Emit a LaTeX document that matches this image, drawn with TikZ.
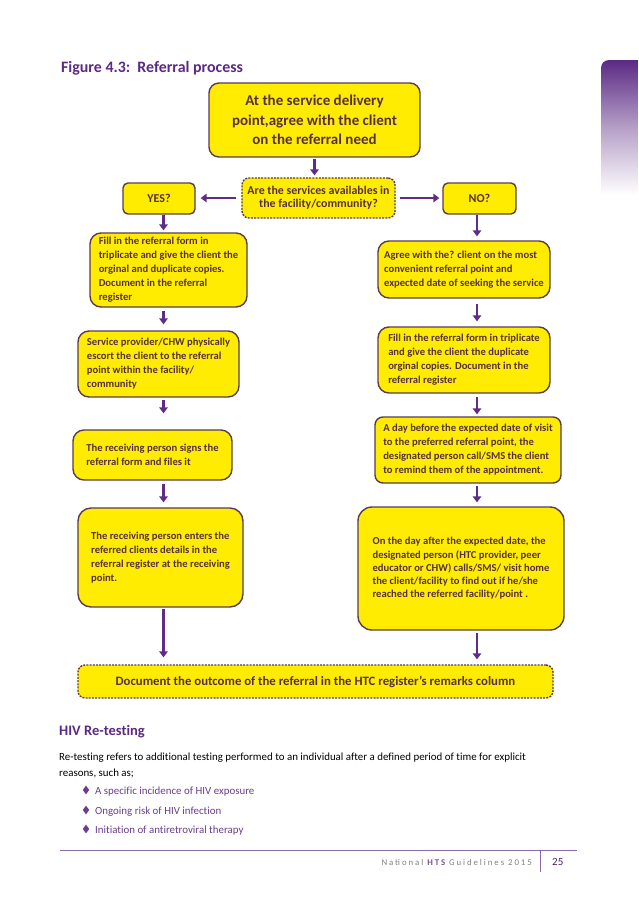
\documentclass[tikz,border=0pt]{standalone}
\usepackage{fontspec}
\setmainfont{Carlito}[Ligatures=NoCommon]
\newfontfamily\footfont[LetterSpace=22]{Carlito}
\usetikzlibrary{arrows.meta,shapes.geometric}
\definecolor{yel}{HTML}{FFEC00}
\definecolor{bord}{HTML}{5A3C50}
\definecolor{txt}{HTML}{553040}
\definecolor{arrp}{HTML}{5F2D86}
\definecolor{ttl}{HTML}{5B2A84}
\definecolor{bul}{HTML}{6A3E8E}
\definecolor{footgray}{HTML}{808080}
\tikzset{
  box/.style={draw=bord, line width=1.4pt, fill=yel, rounded corners=11pt,
    text=txt, font=\bfseries\fontsize{10.6}{14}\selectfont, align=left, inner sep=2pt},
  dbox/.style={box, dash pattern=on 2pt off 1.2pt, rounded corners=7pt},
  small/.style={box, rounded corners=5pt, align=center, font=\bfseries\fontsize{12}{14}\selectfont},
  arr/.style={draw=arrp, line width=2.6pt, -{Triangle[length=6pt,width=8.5pt]}},
  body/.style={anchor=base west, inner sep=0pt, font=\fontsize{10.9}{13}\selectfont},
  bullet/.style={diamond, fill=bul, inner sep=0pt, minimum width=6.5pt, minimum height=9pt},
}
\begin{document}
\begin{tikzpicture}[x=1pt,y=-1pt]
\useasboundingbox (0,0) rectangle (638,903);
\fill[white] (0,0) rectangle (638,903);
% side tab
\shade[top color=ttl, bottom color=white, middle color=ttl!45] (601,195) -- (601,68) arc[start angle=180,end angle=90,radius=8pt] -- (638,60) -- (638,195) -- cycle;
% title
\node[anchor=base west, inner sep=0pt, text=ttl, font=\bfseries\fontsize{15.9}{18}\selectfont] (title) at (61,72) {Figure 4.3:\ \ Referral process};
% boxes
\node[box, align=center, rounded corners=10pt, minimum width=211pt, minimum height=74pt,
  font=\bfseries\fontsize{15}{19.5}\selectfont] (top) at (314.5,120)
  {At the service delivery\\ point,agree with the client\\ on the referral need};
\node[dbox, align=center, minimum width=153pt, minimum height=40pt,
  font=\bfseries\fontsize{11.9}{13}\selectfont] (q) at (318.5,198)
  {Are the services availables in\\ the facility/community?};
\node[small, minimum width=72pt, minimum height=31pt] (yes) at (159,198.5) {YES?};
\node[small, minimum width=73pt, minimum height=31pt] (no) at (479.5,198.5) {NO?};
\node[box, minimum width=157pt, minimum height=74pt] (L1) at (168.5,270)
  {Fill in the referral form in\\ triplicate and give the client the\\ orginal and duplicate copies.\\ Document in the referral\\ register};
\node[box, minimum width=161pt, minimum height=66pt] (L2) at (158.5,364)
  {Service provider/CHW physically\\ escort the client to the referral\\ point within the facility/\\ community};
\node[box, minimum width=159pt, minimum height=50pt] (L3) at (152.5,455)
  {The receiving person signs the\\ referral form and files it};
\node[box, minimum width=165pt, minimum height=99pt, rounded corners=13pt] (L4) at (160.5,557.5)
  {The receiving person enters the\\ referred clients details in the\\ referral register at the receiving\\ point.};
\node[box, minimum width=172pt, minimum height=57pt] (R1) at (464,269.5)
  {Agree with the? client on the most\\ convenient referral point and\\ expected date of seeking the service};
\node[box, minimum width=172pt, minimum height=66pt] (R2) at (464,360)
  {Fill in the referral form in triplicate\\ and give the client the duplicate\\ orginal copies. Document in the\\ referral register};
\node[box, minimum width=186pt, minimum height=66pt, rounded corners=8pt] (R3) at (468,450)
  {A day before the expected date of visit\\ to the preferred referral point, the\\ designated person call/SMS the client\\ to remind them of the appointment.};
\node[box, minimum width=206pt, minimum height=123pt, rounded corners=14pt,
  font=\bfseries\fontsize{10.6}{13.3}\selectfont] (R4) at (461,568.5)
  {On the day after the expected date, the\\ designated person (HTC provider, peer\\ educator or CHW) calls/SMS/ visit home\\ the client/facility to find out if he/she\\ reached the referred facility/point .};
\node[dbox, align=center, minimum width=475pt, minimum height=33pt,
  font=\bfseries\fontsize{12.8}{14}\selectfont] (bot) at (315.5,681.5)
  {Document the outcome of the referral in the HTC register’s remarks column};
% arrows
\coordinate (lc) at (163.5,0);
\coordinate (rc) at (477,0);
\draw[arr, shorten <=1pt, shorten >=2pt] (top.south) -- (top.south |- q.north);
\draw[arr, shorten <=5pt, shorten >=5pt] (q.west) -- (q.west -| yes.east);
\draw[arr, shorten <=4pt, shorten >=3pt] (q.east) -- (q.east -| no.west);
\draw[arr, shorten >=2pt] (yes.south -| lc) -- (L1.north -| lc);
\draw[arr, shorten <=3pt, shorten >=6pt] (L1.south -| lc) -- (L2.north -| lc);
\draw[arr, shorten <=2pt, shorten >=16pt] (L2.south -| lc) -- (L3.north -| lc);
\draw[arr, shorten <=3pt, shorten >=5pt] (L3.south -| lc) -- (L4.north -| lc);
\draw[arr, shorten <=1pt, shorten >=7pt] (L4.south -| lc) -- (bot.north -| lc);
\draw[arr, shorten >=4pt] (no.south -| rc) -- (R1.north -| rc);
\draw[arr, shorten <=5pt, shorten >=5pt] (R1.south -| rc) -- (R2.north -| rc);
\draw[arr, shorten <=3pt, shorten >=2pt] (R2.south -| rc) -- (R3.north -| rc);
\draw[arr, shorten <=2pt, shorten >=4pt] (R3.south -| rc) -- (R4.north -| rc);
\draw[arr, shorten <=2pt, shorten >=5pt] (R4.south -| rc) -- (bot.north -| rc);
% text below
\node[anchor=base west, inner sep=0pt, text=ttl, font=\bfseries\fontsize{14.5}{17}\selectfont] (hiv) at (59,735) {HIV Re-testing};
\node[body] (p1) at (59,760) {Re-testing refers to additional testing performed to an individual after a defined period of time for explicit};
\node[body] (p2) at (59,776) {reasons, such as;};
\node[bullet] (b1) at (86,790) {};
\node[bullet] (b2) at (86,810) {};
\node[bullet] (b3) at (86,829) {};
\node[body, text=bul] (t1) at (95,794) {A specific incidence of HIV exposure};
\node[body, text=bul] (t2) at (95,814) {Ongoing risk of HIV infection};
\node[body, text=bul] (t3) at (95,833) {Initiation of antiretroviral therapy};
% footer
\coordinate (fl) at (60,850);
\coordinate (fr) at (577,850);
\draw[ttl!70, line width=0.8pt] (fl) -- (fr);
\coordinate (vt) at (540,850);
\coordinate (vb) at (540,872);
\draw[ttl!70, line width=0.8pt] (vt) -- (vb);
\node[anchor=base east, inner sep=0pt, text=footgray, font=\footfont\fontsize{8.8}{10}\selectfont] (foot) at (532,865)
  {National \textcolor{ttl!80}{\bfseries HTS} Guidelines 2015};
\node[anchor=base west, inner sep=0pt, text=ttl!80!black, font=\fontsize{11}{13}\selectfont] (pg) at (552,865) {25};
\end{tikzpicture}
\end{document}
